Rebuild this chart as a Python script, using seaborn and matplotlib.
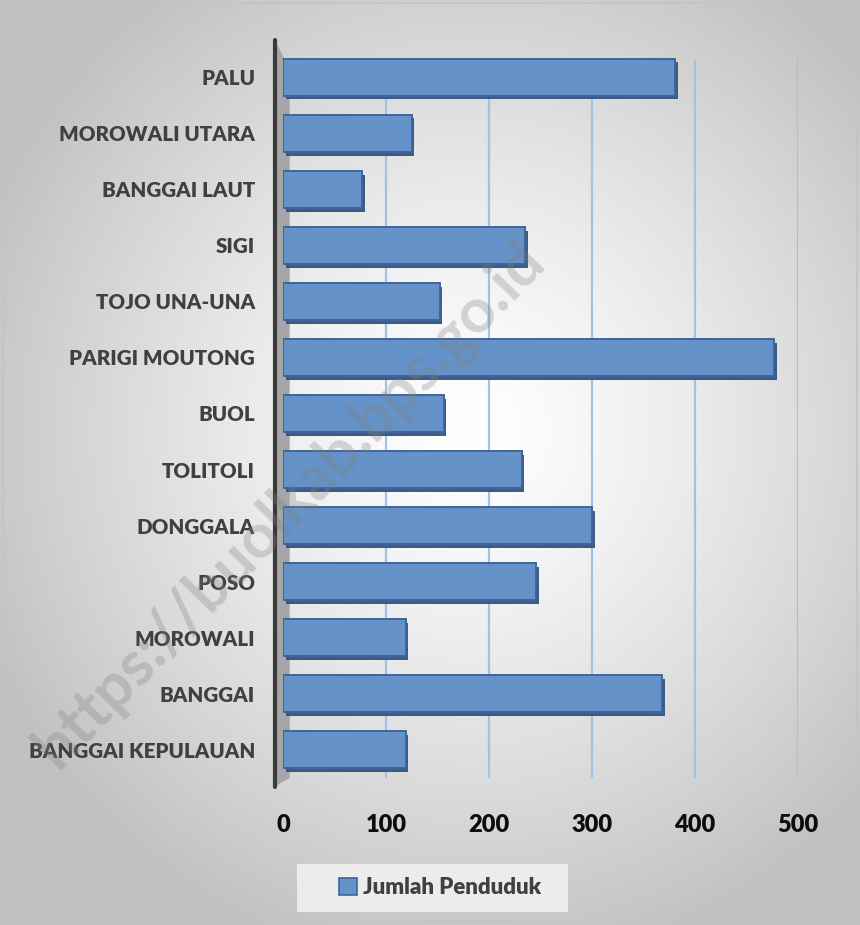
import numpy as np
import pandas as pd
import matplotlib
matplotlib.use("Agg")
import matplotlib.pyplot as plt
import matplotlib.patheffects as pe
from matplotlib.patches import Rectangle, Polygon
import seaborn as sns

regions = ["PALU", "MOROWALI UTARA", "BANGGAI LAUT", "SIGI", "TOJO UNA-UNA",
           "PARIGI MOUTONG", "BUOL", "TOLITOLI", "DONGGALA", "POSO",
           "MOROWALI", "BANGGAI", "BANGGAI KEPULAUAN"]
values = [381, 125, 77, 235, 152, 477, 156, 232, 300, 246, 119, 368, 119]
x_ticks = [0, 100, 200, 300, 400, 500]
series_name = "Jumlah Penduduk"

df = pd.DataFrame({"region": regions, series_name: values})

sns.set_theme(style="white")
plt.rcParams["font.family"] = ["Lato", "DejaVu Sans"]

W, H = 860, 925
fig = plt.figure(figsize=(W / 100, H / 100), dpi=100)

# background radial gradient
bg = fig.add_axes([0, 0, 1, 1], zorder=-10)
yy, xx = np.mgrid[0:H, 0:W]
d = np.sqrt(((xx - 470) / 620.0) ** 2 + ((yy - 430) / 640.0) ** 2)
shade = np.clip(1.0 - 0.30 * d ** 1.3, 0.76, 1.0)
img = np.dstack([shade, shade, shade])
bg.imshow(img, aspect="auto", extent=[0, 1, 0, 1], origin="upper")
bg.set_axis_off()
fig.patches.append(Rectangle((0.003, 0.003), 0.994, 0.994, transform=fig.transFigure,
                             fill=False, edgecolor="#c4c4c4", linewidth=1.2))

ax = fig.add_axes([283 / W, 1 - 778 / H, 515 / W, 729 / H])
ax.patch.set_alpha(0)

sns.barplot(data=df, x=series_name, y="region", orient="h", color="#6592c8",
            width=0.66, ax=ax, saturation=1, edgecolor="#3f6698", linewidth=1.4,
            zorder=3)
for p in ax.patches:
    p.set_path_effects([pe.SimplePatchShadow(offset=(1.8, -2.8), shadow_rgbFace="#34557f",
                                             alpha=0.95), pe.Normal()])
if ax.get_legend() is not None:
    ax.get_legend().remove()

ax.set_xlim(0, 500)
ax.set_ylim(12.5, -0.5)
ax.set_xticks(x_ticks)
ax.set_xticklabels([str(t) for t in x_ticks], fontsize=17, fontweight="heavy", color="#0d0d0d")
ax.set_yticks(range(len(regions)))
ax.set_yticklabels(regions, fontsize=14.8, fontweight="heavy", color="#404040")
ax.tick_params(axis="x", length=0, pad=26)
ax.tick_params(axis="y", length=0, pad=20)
ax.set_xlabel("")
ax.set_ylabel("")
for t in x_ticks[1:]:
    ax.plot([t, t], [-0.3, 12.5], color="#9dc3e6", linewidth=1.6, zorder=1)
for s in ax.spines.values():
    s.set_visible(False)

# left wall
ax.add_patch(Polygon([(-0.015, 1.012), (-0.015, -0.012), (0.0, -0.005), (0.013, 0.0),
                      (0.013, 0.975), (0.0, 0.99)],
                     closed=True, transform=ax.transAxes, clip_on=False,
                     facecolor="#a6a6a6", edgecolor="none", zorder=0))
ax.plot([-0.015, -0.015], [1.013, -0.012], transform=ax.transAxes, clip_on=False,
        color="#3a3a3a", linewidth=3, zorder=2)

# legend box
fig.patches.append(Rectangle((297 / W, 1 - 912 / H), 271 / W, 48 / H, transform=fig.transFigure,
                             facecolor="#ececec", edgecolor="none", zorder=1))
leg = fig.legend(handles=[Rectangle((0, 0), 1, 1, facecolor="#6592c8", edgecolor="#3f6698",
                                    linewidth=1.2)],
                 labels=[series_name], loc="center", bbox_to_anchor=(440 / W, 1 - 888 / H),
                 frameon=False, prop={"weight": "heavy", "size": 16},
                 handlelength=0.8, handleheight=0.8, handletextpad=0.3, borderaxespad=0)
for t in leg.get_texts():
    t.set_color("#404040")

# watermark
fig.text(0.337, 0.455, "https://buolkab.bps.go.id", rotation=46, ha="center", va="center",
         fontsize=45, fontweight="bold", color="#808080", alpha=0.3, zorder=20)

fig.savefig("out.png", dpi=100)
